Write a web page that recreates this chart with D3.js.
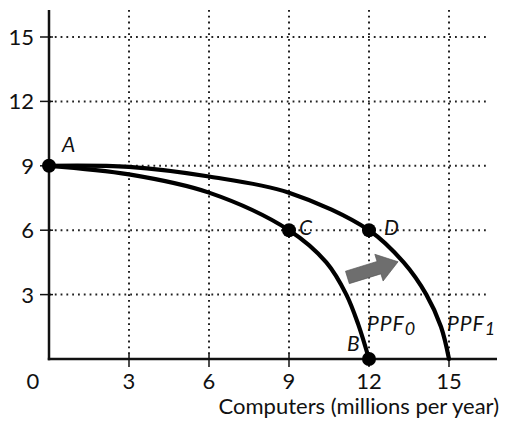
<!DOCTYPE html>
<html><head><meta charset="utf-8">
<script src="https://cdn.jsdelivr.net/npm/d3@7"></script>
<style>html,body{margin:0;padding:0;background:#fff;}svg{display:block;}</style>
</head><body>
<svg id="c" width="505" height="423"></svg>
<script>
const xTicks = [3, 6, 9, 12, 15];
const yTicks = [3, 6, 9, 12, 15];
const ppf0X = [0, 3, 6, 9, 10.4, 11.15, 11.6, 12];
const ppf0Y = [9, 8.6, 7.75, 6, 4.5, 3, 1.6, 0];
const ppf1X = [0, 3, 6, 9, 12, 13.3, 14.15, 14.7, 15];
const ppf1Y = [9, 8.95, 8.5, 7.75, 6, 4.5, 3, 1.5, 0];
const pointLabels = ["A", "C", "D", "B"];
const pointX = [0, 9, 12, 12];
const pointY = [9, 6, 6, 0];
const curveLabels = ["PPF", "PPF"];
const curveSubs = ["0", "1"];
const curveLabelX = [12, 15];
const arrowFrom = [11.19, 3.8];
const arrowTo = [13.09, 4.53];
const xTitle = "Computers (millions per year)";

const svg = d3.select("#c");
const x = d3.scaleLinear().domain([0, 15]).range([49, 449]);
const y = d3.scaleLinear().domain([0, 15]).range([359, 37]);
const font = "Lato, 'Open Sans', sans-serif";

// gridlines
const g = svg.append("g");
g.selectAll(".hg").data(yTicks).join("line")
  .attr("x1", x(0)).attr("x2", 486).attr("y1", d => y(d)).attr("y2", d => y(d))
  .attr("stroke", "#222").attr("stroke-width", 2).attr("stroke-dasharray", "1.8,4");
g.selectAll(".vg").data(xTicks).join("line")
  .attr("y1", 10).attr("y2", y(0)).attr("x1", d => x(d)).attr("x2", d => x(d))
  .attr("stroke", "#222").attr("stroke-width", 2).attr("stroke-dasharray", "1.8,4");

// axes
svg.append("line").attr("x1", x(0)).attr("x2", x(0)).attr("y1", 10).attr("y2", y(0) + 1.2)
  .attr("stroke", "#111").attr("stroke-width", 2.5);
svg.append("line").attr("x1", x(0) - 1.2).attr("x2", 497).attr("y1", y(0)).attr("y2", y(0))
  .attr("stroke", "#111").attr("stroke-width", 2.5);
svg.selectAll(".yt").data(yTicks).join("line")
  .attr("x1", x(0) - 9).attr("x2", x(0) + 4).attr("y1", d => y(d)).attr("y2", d => y(d))
  .attr("stroke", "#111").attr("stroke-width", 1.5);
svg.selectAll(".xt").data(xTicks).join("line")
  .attr("y1", y(0) - 5).attr("y2", y(0) + 8).attr("x1", d => x(d)).attr("x2", d => x(d))
  .attr("stroke", "#111").attr("stroke-width", 1.5);

svg.selectAll(".yl").data(yTicks).join("text")
  .attr("x", 34).attr("y", d => y(d) + 8).attr("text-anchor", "end")
  .attr("font-family", font).attr("font-size", 22).attr("fill", "#111").text(d => d);
svg.selectAll(".xl").data(xTicks).join("text")
  .attr("x", d => x(d)).attr("y", 389).attr("text-anchor", "middle")
  .attr("font-family", font).attr("font-size", 22).attr("fill", "#111").text(d => d);
svg.append("text").attr("x", 33).attr("y", 389).attr("text-anchor", "middle")
  .attr("font-family", font).attr("font-size", 22).attr("fill", "#111").text("0");
svg.append("text").attr("x", 499).attr("y", 414).attr("text-anchor", "end")
  .attr("font-family", font).attr("font-size", 22).attr("fill", "#111").text(xTitle);

// curves
const line = d3.line().x(d => x(d[0])).y(d => y(d[1])).curve(d3.curveCatmullRom.alpha(0.5));
[[ppf0X, ppf0Y], [ppf1X, ppf1Y]].forEach(([xs, ys]) => {
  svg.append("path").attr("d", line(xs.map((v, i) => [v, ys[i]])))
    .attr("fill", "none").attr("stroke", "#000").attr("stroke-width", 4.2)
    .attr("stroke-linecap", "round");
});

// arrow
const defs = svg.append("defs");
const grad = defs.append("linearGradient").attr("id", "ag")
  .attr("gradientUnits", "userSpaceOnUse")
  .attr("x1", x(arrowFrom[0])).attr("y1", y(arrowFrom[1]))
  .attr("x2", x(arrowTo[0])).attr("y2", y(arrowTo[1]));
grad.append("stop").attr("offset", "0%").attr("stop-color", "#6e6e6e");
grad.append("stop").attr("offset", "55%").attr("stop-color", "#2e2e2e");
grad.append("stop").attr("offset", "100%").attr("stop-color", "#111");
{
  const x0 = x(arrowFrom[0]), y0 = y(arrowFrom[1]), x1 = x(arrowTo[0]), y1 = y(arrowTo[1]);
  const len = Math.hypot(x1 - x0, y1 - y0);
  const ang = Math.atan2(y1 - y0, x1 - x0) * 180 / Math.PI;
  const bw = 6.5, hw = 14, hl = 20;
  const pts = [[0, -bw], [len - hl, -bw], [len - hl, -hw], [len, 0], [len - hl, hw], [len - hl, bw], [0, bw]];
  svg.append("polygon").attr("points", pts.map(p => p.join(",")).join(" "))
    .attr("transform", `translate(${x0},${y0}) rotate(${ang})`)
    .attr("fill", "url(#ag)").attr("stroke", "#555").attr("stroke-width", 0.6);
}

// points
svg.selectAll(".pt").data(pointX).join("circle")
  .attr("cx", d => x(d)).attr("cy", (d, i) => y(pointY[i])).attr("r", 7).attr("fill", "#000");

const lblOff = [[13, -14], [10, 5], [15, 5], [-22, -8]];
svg.selectAll(".pl").data(pointLabels).join("text")
  .attr("x", (d, i) => x(pointX[i]) + lblOff[i][0])
  .attr("y", (d, i) => y(pointY[i]) + lblOff[i][1])
  .attr("font-family", font).attr("font-style", "italic").attr("font-size", 21)
  .attr("fill", "#111").text(d => d);

curveLabels.forEach((t, i) => {
  const tx = svg.append("text").attr("x", x(curveLabelX[i]) - 2).attr("y", 331)
    .attr("font-family", font).attr("font-style", "italic").attr("font-size", 21)
    .attr("letter-spacing", 1).attr("fill", "#111");
  tx.append("tspan").text(t);
  tx.append("tspan").attr("dy", 4).attr("font-size", 18).text(curveSubs[i]);
});
</script>
</body></html>
